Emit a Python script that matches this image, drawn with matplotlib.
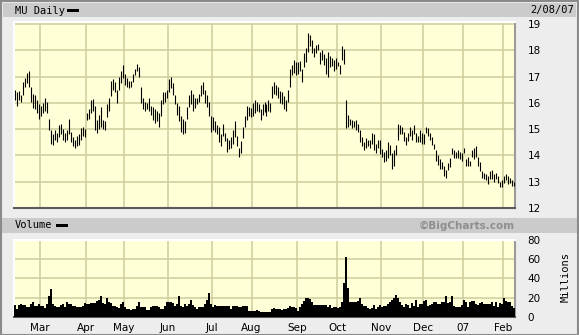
import matplotlib
matplotlib.use("Agg")
import matplotlib.pyplot as plt
from matplotlib.patches import Rectangle
import numpy as np

# Trading days per month, Feb 9 2006 .. Feb 8 2007
month_days = [13, 23, 19, 22, 22, 20, 23, 20, 22, 21, 20, 20, 6]
month_labels = ["", "Mar", "Apr", "May", "Jun", "Jul", "Aug", "Sep", "Oct", "Nov", "Dec", "07", "Feb"]

# Daily highs / lows (USD), one list per month
highs = [
    [16.5, 16.4, 16.45, 16.3, 16.8, 16.95, 17.15, 17.2, 16.6, 16.35, 16.3, 16.1, 15.95],
    [15.9, 16.0, 16.2, 16.05, 15.4, 14.95, 14.8, 14.95, 14.85, 15.15, 15.2, 15.0, 14.85, 14.95,
     15.4, 14.9, 14.7, 14.6, 14.75, 14.8, 15.05, 15.1, 15.0],
    [15.6, 15.75, 16.1, 16.15, 15.9, 15.35, 15.55, 15.85, 15.35, 15.3, 15.95, 16.2, 16.85, 16.9,
     16.8, 16.5, 17.0, 17.2, 17.45],
    [17.1, 16.95, 16.85, 16.85, 17.1, 17.3, 17.5, 17.35, 16.6, 16.2, 16.05, 16.0, 16.2, 15.9,
     15.85, 15.75, 15.7, 15.6, 16.1, 16.4, 16.4, 16.5],
    [16.9, 17.0, 16.75, 16.3, 16.0, 15.9, 15.5, 15.4, 15.3, 15.85, 16.3, 16.5, 16.35, 16.2,
     16.2, 16.35, 16.7, 16.8, 16.5, 16.3, 16.05, 15.5],
    [15.45, 15.3, 15.15, 15.1, 14.8, 15.2, 14.85, 14.65, 14.6, 14.7, 14.95, 15.3, 14.75, 14.3,
     14.55, 15.1, 15.5, 15.9, 15.85, 15.8],
    [16.0, 16.1, 16.05, 15.95, 15.75, 15.95, 16.05, 15.95, 16.1, 16.0, 16.65, 16.8, 16.7, 16.6,
     16.45, 16.4, 16.25, 16.1, 16.5, 17.3, 17.45, 17.65, 17.55],
    [17.55, 17.6, 17.3, 17.9, 18.1, 18.65, 18.6, 18.4, 18.1, 18.2, 18.25, 17.95, 18.0, 17.85,
     17.7, 17.95, 17.8, 17.7, 17.65, 17.7],
    [17.55, 17.45, 18.15, 18.05, 16.1, 15.55, 15.4, 15.35, 15.3, 15.35, 15.2, 14.95, 14.7, 14.5,
     14.65, 14.6, 14.6, 14.85, 14.8, 14.45, 14.6, 14.6],
    [14.25, 14.15, 14.2, 14.5, 14.4, 14.1, 14.2, 14.4, 15.2, 15.15, 15.1, 14.9, 14.7, 14.85,
     15.1, 14.95, 15.15, 14.85, 14.75, 14.95, 14.85],
    [14.8, 15.1, 15.05, 14.85, 14.7, 14.45, 14.2, 14.0, 13.85, 13.75, 13.6, 13.45, 13.7, 13.9,
     14.3, 14.2, 14.15, 14.2, 14.15, 14.1],
    [14.3, 13.85, 13.95, 13.8, 14.2, 14.3, 14.35, 13.95, 13.75, 13.4, 13.35, 13.3, 13.2, 13.4,
     13.45, 13.3, 13.35, 13.2, 13.0, 13.05],
    [13.2, 13.3, 13.2, 13.15, 13.05, 13.0],
]
lows = [
    [16.1, 15.9, 16.1, 16.05, 16.3, 16.6, 16.75, 16.6, 16.05, 15.8, 15.75, 15.6, 15.4],
    [15.5, 15.6, 15.7, 15.6, 14.95, 14.45, 14.4, 14.6, 14.5, 14.7, 14.8, 14.6, 14.5, 14.6,
     14.8, 14.5, 14.35, 14.3, 14.35, 14.4, 14.6, 14.75, 14.7],
    [15.35, 15.4, 15.6, 15.7, 14.95, 14.85, 15.0, 15.1, 15.0, 14.95, 15.45, 15.7, 16.25, 16.5,
     16.4, 16.0, 16.5, 16.75, 16.95],
    [16.7, 16.6, 16.55, 16.6, 16.8, 17.05, 17.2, 17.0, 16.0, 15.75, 15.7, 15.75, 15.7, 15.55,
     15.35, 15.25, 15.3, 15.1, 15.5, 15.95, 16.05, 16.2],
    [16.4, 16.55, 16.3, 15.95, 15.55, 15.3, 14.9, 14.8, 14.85, 15.4, 15.85, 15.95, 15.7, 15.8,
     15.95, 16.05, 16.25, 16.35, 16.0, 15.85, 15.5, 14.9],
    [14.95, 14.9, 14.8, 14.5, 14.35, 14.75, 14.55, 14.15, 14.25, 14.3, 14.45, 14.7, 14.35, 13.95,
     14.1, 14.65, 15.1, 15.35, 15.5, 15.45],
    [15.5, 15.6, 15.7, 15.65, 15.35, 15.55, 15.65, 15.5, 15.7, 15.65, 16.2, 16.35, 16.3, 16.2,
     16.0, 15.95, 15.75, 15.7, 16.05, 16.6, 17.05, 17.15, 17.05],
    [17.1, 17.2, 16.8, 17.35, 17.55, 17.95, 18.15, 17.9, 17.75, 17.9, 18.0, 17.5, 17.65, 17.45,
     17.1, 17.0, 17.35, 17.4, 17.2, 17.3],
    [17.4, 17.1, 17.65, 17.5, 15.05, 15.1, 15.15, 15.05, 15.1, 14.95, 14.9, 14.5, 14.35, 14.2,
     14.3, 14.35, 14.3, 14.45, 14.2, 14.1, 14.3, 14.05],
    [13.95, 13.75, 13.8, 13.9, 14.0, 13.5, 13.6, 14.0, 14.6, 14.8, 14.8, 14.55, 14.4, 14.55,
     14.75, 14.6, 14.8, 14.5, 14.5, 14.5, 14.45],
    [14.45, 14.85, 14.75, 14.6, 14.4, 14.25, 13.8, 13.65, 13.5, 13.5, 13.2, 13.15, 13.45, 13.55,
     14.05, 13.9, 13.9, 13.9, 13.85, 13.8],
    [14.1, 13.6, 13.6, 13.6, 13.95, 13.85, 13.95, 13.6, 13.4, 13.15, 13.1, 13.05, 12.9, 13.1,
     13.1, 13.0, 13.1, 12.95, 12.8, 12.8],
    [12.95, 13.05, 12.9, 12.95, 12.85, 12.85],
]
# Daily volume, millions of shares
volume = [
    [12, 8, 12, 13, 12, 12, 10, 10, 13, 15, 11, 11, 13],
    [11, 11, 9, 13, 22, 29, 13, 11, 10, 10, 12, 13, 10, 15, 13, 13, 11, 11, 10, 10, 10, 11, 14],
    [13, 13, 14, 14, 14, 17, 18, 22, 14, 13, 20, 15, 14, 11, 11, 10, 9, 13, 15],
    [10, 8, 8, 7, 8, 8, 11, 15, 10, 10, 10, 7, 7, 10, 11, 11, 11, 10, 8, 8, 11, 15],
    [15, 15, 14, 11, 13, 22, 11, 10, 13, 11, 13, 18, 12, 10, 8, 10, 10, 10, 13, 18, 25, 13],
    [10, 12, 11, 11, 11, 11, 11, 11, 11, 8, 11, 11, 11, 10, 10, 11, 11, 11, 6, 6],
    [6, 6, 7, 6, 5, 5, 5, 5, 5, 5, 8, 9, 8, 8, 8, 7, 8, 8, 9, 11, 10, 10, 9],
    [6, 10, 13, 17, 20, 20, 19, 15, 12, 12, 12, 12, 12, 12, 12, 10, 12, 9, 10, 10],
    [9, 10, 15, 35, 62, 30, 16, 15, 16, 16, 17, 20, 13, 11, 11, 9, 8, 9, 12, 8, 10, 12],
    [10, 11, 11, 13, 16, 18, 20, 23, 20, 16, 12, 10, 13, 12, 9, 14, 11, 18, 10, 13, 13],
    [17, 18, 11, 12, 13, 15, 15, 13, 13, 15, 15, 22, 14, 15, 22, 11, 10, 10, 10, 12],
    [18, 15, 10, 15, 17, 17, 13, 12, 14, 15, 13, 13, 13, 13, 15, 11, 15, 10, 14, 13],
    [20, 17, 15, 15, 11, 9],
]

for name, series in (("highs", highs), ("lows", lows), ("volume", volume)):
    for m, vals in enumerate(series):
        assert len(vals) == month_days[m], (name, m, len(vals))

hi = np.concatenate(highs)
lo = np.concatenate(lows)
vol = np.concatenate(volume)
n = len(hi)
x = np.arange(n) + 0.5
month_starts = np.concatenate([[0], np.cumsum(month_days)[:-1]])

W, H = 579, 335
bg_plot = "#FFFFD8"
grid_c = "#CDCD9C"
strip_c = "#CBCBCB"
frame_c = "#EDEDED"

fig = plt.figure(figsize=(W / 100, H / 100), dpi=100, facecolor=frame_c)

def fx(px):
    return px / W

def fy(py):
    return 1 - py / H

# header strips
fig.patches.append(Rectangle((fx(3), fy(17)), fx(573), 14 / H, transform=fig.transFigure,
                             facecolor=strip_c, edgecolor="none", zorder=0))
fig.patches.append(Rectangle((fx(2), fy(233)), fx(575), 15 / H, transform=fig.transFigure,
                             facecolor=strip_c, edgecolor="none", zorder=0))
# outer border
fig.patches.append(Rectangle((0.5 / W, 0.5 / H), 1 - 1.5 / W, 1 - 1.5 / H, transform=fig.transFigure,
                             facecolor="none", edgecolor="#8A8A8A", lw=1.5, zorder=5))

mono = "DejaVu Sans Mono"
fig.text(fx(15), fy(10.5), "MU Daily", fontsize=7.5, family=mono, va="center", ha="left")
fig.patches.append(Rectangle((fx(67), fy(12)), fx(12), 3 / H, transform=fig.transFigure,
                             facecolor="black", edgecolor="none"))
fig.text(fx(574), fy(10.5), "2/08/07", fontsize=7.5, family=mono, va="center", ha="right")
fig.text(fx(15), fy(225.5), "Volume", fontsize=7.5, family=mono, va="center", ha="left")
fig.patches.append(Rectangle((fx(56), fy(227)), fx(12), 3 / H, transform=fig.transFigure,
                             facecolor="black", edgecolor="none"))
fig.text(fx(515), fy(225.5), "\u00a9BigCharts.com", fontsize=7.5, fontweight="bold",
         color="#8E8E8E", va="center", ha="right")
fig.text(fx(566), fy(277), "Millions", fontsize=7.5, family=mono, rotation=90,
         va="center", ha="center")

# price panel
ax = fig.add_axes([fx(14), fy(208), fx(501), 186 / H], facecolor=bg_plot)
ax.vlines(x, lo, hi, color="black", lw=0.8, zorder=3)
ax.set_xlim(0, n)
ax.set_ylim(12, 19.08)
ax.set_yticks(range(12, 20))
ax.set_xticks(month_starts[1:])
ax.set_xticklabels([])

# volume panel
axv = fig.add_axes([fx(14), fy(317), fx(501), 77.5 / H], facecolor=bg_plot)
axv.bar(x, vol, width=1.0, color="black", lw=0, zorder=3)
axv.set_xlim(0, n)
axv.set_ylim(0, 80)
axv.set_yticks([0, 20, 40, 60, 80])
axv.set_xticks(month_starts[1:])
axv.set_xticklabels(month_labels[1:])

for a in (ax, axv):
    a.grid(True, color=grid_c, lw=1.1, zorder=1)
    a.set_axisbelow(True)
    a.yaxis.tick_right()
    a.tick_params(axis="y", length=0, pad=9, labelsize=7.5)
    a.tick_params(axis="x", length=0, pad=4, labelsize=7.5)
    for lab in a.get_yticklabels() + a.get_xticklabels():
        lab.set_family("DejaVu Sans")
    a.spines["top"].set_color("white")
    a.spines["left"].set_color("white")
    a.spines["right"].set_color("#9A9A9A")
    a.spines["bottom"].set_color("#5A5A5A")
    for s in a.spines.values():
        s.set_linewidth(1.5)

fig.savefig("out.png", dpi=100, facecolor=frame_c)
